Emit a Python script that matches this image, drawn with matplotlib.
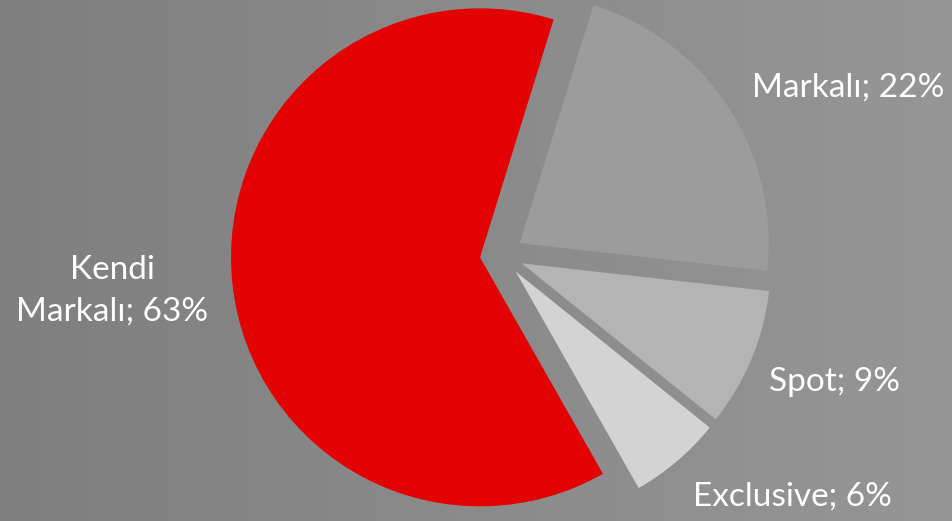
import matplotlib
matplotlib.use("Agg")
import matplotlib.pyplot as plt
import numpy as np
from matplotlib.colors import LinearSegmentedColormap

categories = ["Markalı", "Spot", "Exclusive", "Kendi Markalı"]
values = [22, 9, 6, 63]
label_texts = ["Markalı; 22%", "Spot; 9%", "Exclusive; 6%", "Kendi\nMarkalı; 63%"]
colors = ["#9c9c9c", "#b4b4b4", "#d3d3d3", "#e30000"]

W, H = 953, 521
fig = plt.figure(figsize=(W / 100, H / 100), dpi=100)
ax = fig.add_axes([0, 0, 1, 1])

# background horizontal gradient
grad = np.linspace(0, 1, 256).reshape(1, -1)
cmap = LinearSegmentedColormap.from_list("bg", ["#7f7f7f", "#969696"])
ax.imshow(grad, extent=(0, W, -H, 0), cmap=cmap, aspect="auto", zorder=0)

radius = 249
explode = [21.7] * 4  # matplotlib explode is in data units here
ax.pie(values, colors=colors, startangle=72.8, counterclock=False,
       explode=explode, radius=radius, center=(501.6, -255),
       wedgeprops=dict(linewidth=0), frame=True)
ax.set_xlim(0, W)
ax.set_ylim(-H, 0)
ax.set_aspect("auto")
ax.axis("off")

fs = 24
font = "Lato"
pos = [(848, -88), (835, -382), (792, -497), (112, -291)]
for t, (x, y) in zip(label_texts, pos):
    ax.text(x, y, t, color="white", fontsize=fs, family=font,
            ha="center", va="center", linespacing=1.5, zorder=5)

fig.savefig("out.png", dpi=100)
